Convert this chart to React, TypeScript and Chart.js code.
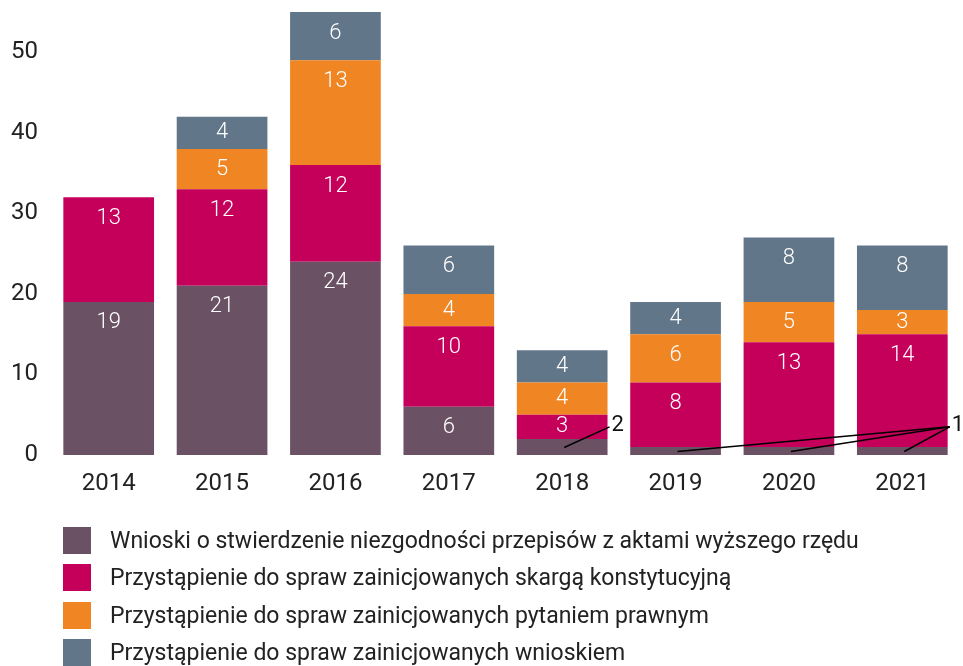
import React, { useEffect, useRef } from "react";
import { Chart, registerables } from "chart.js";

Chart.register(...registerables);

const FONT = "Roboto";
const TEXT_COLOR = "#222222";

const years = ["2014", "2015", "2016", "2017", "2018", "2019", "2020", "2021"];
const wnioski = [19, 21, 24, 6, 2, 1, 1, 1];
const skarga = [13, 12, 12, 10, 3, 8, 13, 14];
const pytanie = [0, 5, 13, 4, 4, 6, 5, 3];
const wnioskiem = [0, 4, 6, 6, 4, 4, 8, 8];

const seriesLabels = [
  "Wnioski o stwierdzenie niezgodności przepisów z aktami wyższego rzędu",
  "Przystąpienie do spraw zainicjowanych skargą konstytucyjną",
  "Przystąpienie do spraw zainicjowanych pytaniem prawnym",
  "Przystąpienie do spraw zainicjowanych wnioskiem",
];
const seriesColors = ["#6a5164", "#c5005a", "#ef8523", "#627689"];
const seriesData = [wnioski, skarga, pytanie, wnioskiem];

const yTickValues = [0, 10, 20, 30, 40, 50];
const yMax = 55;
const outsideThreshold = 2;
const leaderTargetValue = 3.5;

const segmentLabels = {
  id: "segmentLabels",
  afterDatasetsDraw(chart: any) {
    const ctx = chart.ctx;
    const yScale = chart.scales.y;
    ctx.save();
    ctx.font = `300 22px ${FONT}`;
    ctx.textAlign = "center";
    ctx.textBaseline = "middle";
    const groups: Record<string, any[]> = {};
    chart.data.datasets.forEach((ds: any, di: number) => {
      const meta = chart.getDatasetMeta(di);
      meta.data.forEach((el: any, i: number) => {
        const v = ds.data[i] as number;
        if (!v) return;
        const top = Math.min(el.y, el.base);
        const bottom = Math.max(el.y, el.base);
        if (v <= outsideThreshold) {
          (groups[String(v)] = groups[String(v)] || []).push({ el, top, bottom });
          return;
        }
        ctx.fillStyle = "#ffffff";
        ctx.fillText(String(v), el.x, Math.min(top + 21, (top + bottom) / 2));
      });
    });
    ctx.strokeStyle = "#000000";
    ctx.lineWidth = 1.5;
    ctx.fillStyle = "#111111";
    ctx.textAlign = "left";
    ctx.font = `22px ${FONT}`;
    Object.keys(groups).forEach((k) => {
      const items = groups[k];
      const last = items[items.length - 1].el;
      const ex = last.x + last.width / 2 + 2;
      const ey = yScale.getPixelForValue(leaderTargetValue);
      items.forEach(({ el, top, bottom }) => {
        ctx.beginPath();
        ctx.moveTo(el.x + 2, (top + bottom) / 2 + 0.5);
        ctx.lineTo(ex, ey);
        ctx.stroke();
      });
      ctx.fillText(k, ex + 2, ey - 1);
    });
    ctx.restore();
  },
};

export default function App() {
  const canvasRef = useRef<HTMLCanvasElement | null>(null);

  useEffect(() => {
    if (!canvasRef.current) return;
    Chart.defaults.font.family = FONT;
    const chart = new Chart(canvasRef.current, {
      type: "bar",
      data: {
        labels: years,
        datasets: seriesData.map((d, i) => ({
          label: seriesLabels[i],
          data: d,
          backgroundColor: seriesColors[i],
          borderWidth: 0,
          categoryPercentage: 0.8,
          barPercentage: 1.0,
        })),
      },
      options: {
        animation: false,
        responsive: false,
        devicePixelRatio: 1,
        layout: { padding: { top: 12, right: 4, left: 0, bottom: 161 } },
        plugins: {
          legend: { display: false },
          tooltip: { enabled: false },
        },
        scales: {
          x: {
            stacked: true,
            grid: { display: false, drawTicks: false },
            border: { display: false },
            ticks: { color: TEXT_COLOR, font: { size: 24, family: FONT }, padding: 15 },
            afterFit: (s: any) => {
              s.height = 50;
              s.paddingLeft = 0;
              s.paddingRight = 0;
            },
          },
          y: {
            stacked: true,
            min: 0,
            max: yMax,
            grid: { display: false, drawTicks: false },
            border: { display: false },
            afterBuildTicks: (s: any) => {
              s.ticks = yTickValues.map((v) => ({ value: v }));
            },
            ticks: { color: TEXT_COLOR, font: { size: 24, family: FONT }, padding: 14 },
            afterFit: (s: any) => {
              s.width = 52;
              s.paddingTop = 0;
              s.paddingBottom = 0;
            },
          },
        },
      },
      plugins: [segmentLabels],
    });
    return () => chart.destroy();
  }, []);

  return (
    <div style={{ position: "absolute", left: 0, top: 0, width: 963, height: 666, background: "#fff" }}>
      <canvas ref={canvasRef} width={963} height={666} style={{ position: "absolute", left: 0, top: 0 }} />
      <div style={{ position: "absolute", left: 63, top: 522, fontFamily: FONT, fontSize: 23, color: TEXT_COLOR }}>
        {seriesLabels.map((l, i) => (
          <div key={l} style={{ display: "flex", alignItems: "center", height: 37.3, whiteSpace: "nowrap" }}>
            <span style={{ display: "inline-block", width: 28, height: 27, background: seriesColors[i], marginRight: 19 }} />
            <span>{l}</span>
          </div>
        ))}
      </div>
    </div>
  );
}
